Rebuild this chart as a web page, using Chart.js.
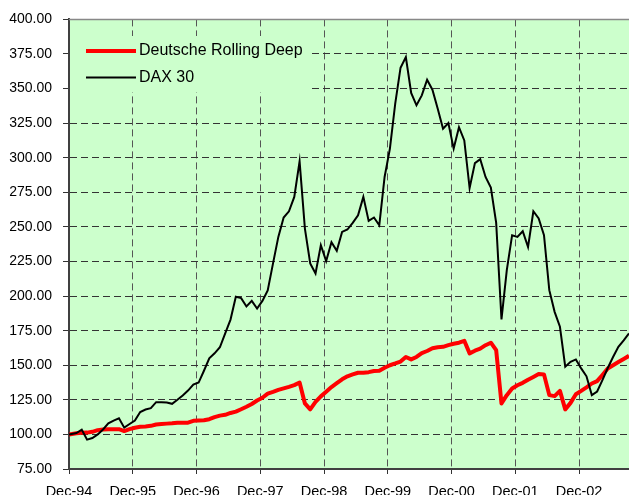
<!DOCTYPE html>
<html>
<head>
<meta charset="utf-8">
<script src="https://cdn.jsdelivr.net/npm/chart.js@4.4.1/dist/chart.umd.min.js"></script>
<style>
  html, body { margin: 0; padding: 0; background: #fff; overflow: hidden; }
  canvas { display: block; }
</style>
</head>
<body>
<canvas id="perfChart" width="629" height="510"></canvas>
<script>
// x tick labels and the month they sit on (months counted from Dec-94)
const tickLabels = ['Dec-94', 'Dec-95', 'Dec-96', 'Dec-97', 'Dec-98', 'Dec-99', 'Dec-00', 'Dec-01', 'Dec-02'];
const tickMonths = [0, 12, 24, 36, 48, 60, 72, 84, 96];

const seriesNames = ['Deutsche Rolling Deep', 'DAX 30'];

// monthly index values, Dec-94 = 100
const rollingDeep = [
  100, 100.8, 101.2, 101.3, 101.9, 103.1, 103.5, 103.8, 103.8, 103.8,
  102.4, 103.8, 104.8, 105.5, 105.8, 106.2, 107.2, 107.5, 107.8, 108,
  108.4, 108.4, 108.5, 109.8, 110, 110.2, 111, 112.5, 113.6, 114.2,
  115.5, 116.5, 118.2, 120, 122, 124.5, 126.5, 129.5, 130.8, 132.2,
  133.3, 134.4, 135.6, 137.5, 122.4, 118.1, 123.5, 127.5, 130.8, 134.2,
  137, 139.8, 142, 143.4, 144.6, 144.6, 145, 145.8, 146, 148.2,
  150, 151.3, 152.7, 156, 154.2, 156, 158.8, 160.3, 162.3, 163,
  163.3, 164.5, 165.5, 166.3, 167.7, 158.6, 160.5, 162, 164.5, 166.3,
  160.9, 122.4, 128.4, 133.2, 135.5, 137.3, 139.5, 141.5, 143.6, 143.4,
  128.4, 127.7, 131.5, 118.1, 122.8, 129, 131.5, 134, 136.8, 138.5,
  143, 147.7, 150, 152.3, 154.5, 156.8
];

const dax30 = [
  100, 101, 103.4, 96.2, 97.4, 100, 103.6, 108, 110, 111.6,
  104.9, 107.5, 110, 116.2, 118, 119, 123.3, 123.3, 123, 122.1,
  125, 128.1, 131.7, 136, 137.5, 146, 155, 158.6, 163, 173,
  183, 199.5, 198.5, 192.5, 196.5, 191, 196.5, 204, 223.6, 242.8,
  256.8, 261.3, 271.7, 297.4, 248.8, 223.6, 216.3, 236.8, 225.3, 239,
  232.7, 246.4, 248.1, 252.9, 258.4, 271.7, 254.3, 256.8, 251.2, 286.1,
  306.6, 339.1, 365.1, 372.8, 346.8, 337.9, 345.1, 356.4, 349.2, 335.4,
  321, 325, 306.6, 322.1, 312.5, 278.1, 296.1, 299, 286.1, 278.5,
  252.9, 183.1, 218.7, 244, 242.8, 246.9, 235.5, 261.3, 256.1, 244,
  204.3, 188.6, 177.8, 149, 152.5, 154.2, 147.7, 142, 128.4, 131,
  139.3, 148, 156, 163.3, 168, 173
];

// first value sits on the Dec-94 axis, the month-end points after it land a bit later
const monthPos = rollingDeep.map((_, i) => (i === 0 ? 0 : i + 0.4));

const PLOT_BG = '#CCFFCC';
const FONT = 'Arial, "Liberation Sans", sans-serif';

const plotDecor = {
  id: 'plotDecor',
  beforeDraw(chart) {
    const { ctx, chartArea: a } = chart;
    ctx.save();
    ctx.fillStyle = PLOT_BG;
    ctx.fillRect(a.left, a.top, a.right - a.left, a.bottom - a.top);
    ctx.restore();
  },
  afterDatasetsDraw(chart) {
    const { ctx, chartArea: a } = chart;
    ctx.save();
    // grey frame line on top
    ctx.strokeStyle = '#888';
    ctx.lineWidth = 1.5;
    ctx.beginPath();
    ctx.moveTo(a.left, a.top);
    ctx.lineTo(a.right, a.top);
    ctx.stroke();

    // legend, boxed in plot colour so the grid stops behind it
    ctx.fillStyle = PLOT_BG;
    ctx.fillRect(a.left + 1, 36, 242, 56);

    const items = [
      { name: seriesNames[0], color: '#FF0000', width: 4, y: 51 },
      { name: seriesNames[1], color: '#000000', width: 2, y: 77.5 }
    ];
    ctx.font = '16px ' + FONT;
    ctx.textBaseline = 'middle';
    ctx.textAlign = 'left';
    items.forEach(it => {
      ctx.strokeStyle = it.color;
      ctx.lineWidth = it.width;
      ctx.beginPath();
      ctx.moveTo(a.left + 17, it.y);
      ctx.lineTo(a.left + 67, it.y);
      ctx.stroke();
      ctx.fillStyle = '#000';
      ctx.fillText(it.name, a.left + 70, it.y);
    });
    ctx.restore();
  }
};

new Chart(document.getElementById('perfChart'), {
  type: 'line',
  data: {
    datasets: [
      {
        label: seriesNames[0],
        data: monthPos.map((x, i) => ({ x, y: rollingDeep[i] })),
        borderColor: '#FF0000',
        borderWidth: 4,
        borderJoinStyle: 'round',
        pointRadius: 0,
        tension: 0,
        order: 2
      },
      {
        label: seriesNames[1],
        data: monthPos.map((x, i) => ({ x, y: dax30[i] })),
        borderColor: '#000000',
        borderWidth: 2,
        pointRadius: 0,
        tension: 0,
        order: 1
      }
    ]
  },
  options: {
    responsive: false,
    animation: false,
    layout: { padding: { top: 19, right: 0, bottom: 0, left: 0 } },
    plugins: {
      legend: { display: false },
      tooltip: { enabled: false }
    },
    scales: {
      x: {
        type: 'linear',
        min: 0,
        max: 105.4,
        afterBuildTicks: s => { s.ticks = tickMonths.map(v => ({ value: v })); },
        afterFit: s => { s.height = 41; },
        ticks: {
          autoSkip: false,
          maxRotation: 0,
          padding: 9,
          color: '#000',
          font: { family: FONT, size: 14.5 },
          callback: v => tickLabels[tickMonths.indexOf(v)]
        },
        grid: { color: '#555', lineWidth: 1, tickLength: 5, tickColor: '#333' },
        border: { color: '#404040', width: 2, dash: [7, 4] }
      },
      y: {
        min: 75,
        max: 400,
        afterFit: s => { s.width = 69; },
        ticks: {
          stepSize: 25,
          padding: 11,
          color: '#000',
          font: { family: FONT, size: 14 },
          callback: v => v.toFixed(2)
        },
        grid: { color: '#333', lineWidth: 1, tickLength: 6, tickColor: '#333' },
        border: { color: '#404040', width: 2, dash: [7, 4] }
      }
    }
  },
  plugins: [plotDecor]
});
</script>
</body>
</html>
